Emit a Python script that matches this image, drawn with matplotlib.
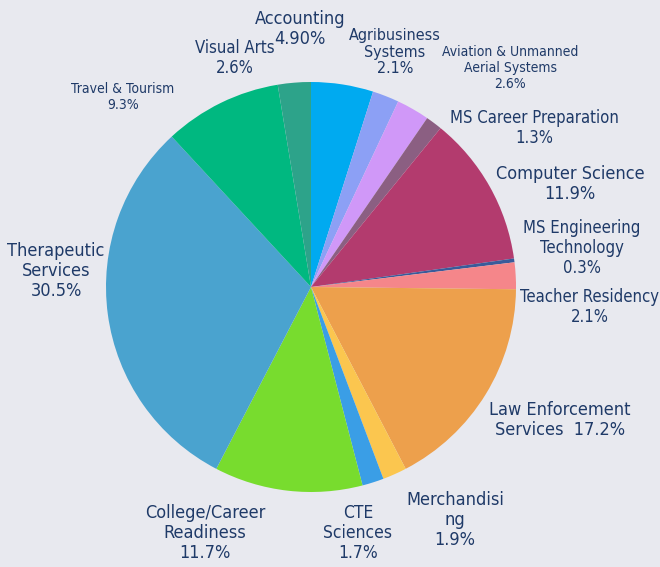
import matplotlib.pyplot as plt
from matplotlib import font_manager

# slices, clockwise from 12 o'clock
labels = ["Accounting\n4.90%", "Agribusiness\nSystems\n2.1%",
          "Aviation & Unmanned\nAerial Systems\n2.6%", "MS Career Preparation\n1.3%",
          "Computer Science\n11.9%", "MS Engineering\nTechnology\n0.3%",
          "Teacher Residency\n2.1%", "Law Enforcement\nServices  17.2%",
          "Merchandisi\nng\n1.9%", "CTE\nSciences\n1.7%",
          "College/Career\nReadiness\n11.7%", "Therapeutic\nServices\n30.5%",
          "Travel & Tourism\n9.3%", "Visual Arts\n2.6%"]
values = [4.9, 2.1, 2.6, 1.3, 11.9, 0.3, 2.1, 17.2, 1.9, 1.7, 11.7, 30.5, 9.3, 2.6]
colors = ["#00aaf0", "#8ca0f5", "#d098f8", "#8b5f82", "#b33b6e", "#3a5b9a",
          "#f5868a", "#eda04c", "#fbc64f", "#3a9ee6", "#78dc2e", "#4aa3cf",
          "#00b880", "#2da38a"]

# label placement (pixel coords, y from top) and font sizes
label_xy = [(300, 29), (395, 52), (510, 68), (534, 128), (570, 184), (582, 248),
            (590, 307), (560, 420), (455, 520), (358, 533), (205, 533), (56, 271),
            (123, 97), (235, 58)]
label_fs = [13, 11.5, 10, 12, 13, 12, 12, 13, 13, 12.5, 13, 13, 10, 12]

BG = "#e8e9ef"
TXT = "#1f3a68"
W, H = 660, 567

names = {f.name for f in font_manager.fontManager.ttflist}
family = "Liberation Sans Narrow" if "Liberation Sans Narrow" in names else "DejaVu Sans"
stretch = "normal" if family == "Liberation Sans Narrow" else "condensed"

fig = plt.figure(figsize=(W / 100, H / 100), dpi=100)
fig.patch.set_facecolor(BG)
ax = fig.add_axes([0, 0, 1, 1])
ax.set_facecolor(BG)

ax.pie(values, colors=colors, startangle=90, counterclock=False,
       center=(311, H - 287), radius=205, wedgeprops=dict(linewidth=0))
ax.set_xlim(0, W)
ax.set_ylim(0, H)
ax.set_aspect("auto")
ax.axis("off")

for text, (x, y), fs in zip(labels, label_xy, label_fs):
    ax.text(x, H - y, text, ha="center", va="center", fontsize=fs, color=TXT,
            family=family, stretch=stretch, linespacing=1.15)

plt.savefig("out.png", dpi=100, facecolor=BG)
